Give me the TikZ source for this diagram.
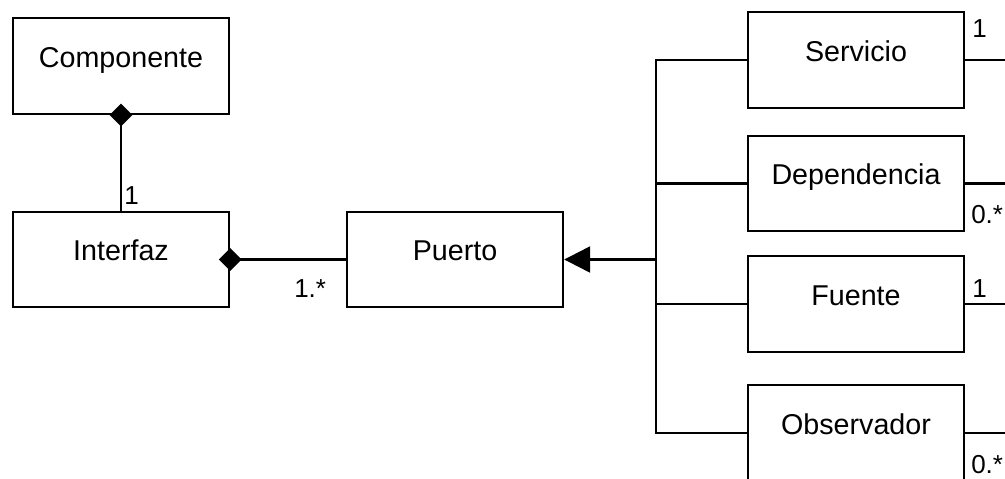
\documentclass[tikz,border=0pt]{standalone}
\usepackage{fontspec}
\setmainfont{Liberation Sans}
\usetikzlibrary{arrows.meta}

\begin{document}
\begin{tikzpicture}[x=0.75pt, y=-0.75pt,
    cls/.style={draw, line width=1.8pt, minimum width=162pt, minimum height=71.6pt,
      inner sep=0pt, font=\fontsize{21.5}{26}\selectfont,
      text height=0.55em, text depth=0.38em},
    mult/.style={inner sep=0pt, font=\fontsize{19.5}{23}\selectfont},
    assoc/.style={line width=1.8pt},
    compo/.style={assoc, -{Diamond[length=17pt, width=17pt]}, shorten >=-8.5pt},
    gener/.style={assoc, -{Triangle[length=19.5pt, width=19.5pt]}}]
  \useasboundingbox (0,0) rectangle (1005,478);

  % Left side: component, interface and port
  \node[cls] (comp) at (121,66) {Componente};
  \node[cls] (iface) at (121,259.5) {Interfaz};
  \node[cls] (port) at (455,259.5) {Puerto};

  % Right column: the kinds of port
  \node[cls] (serv) at (856,60) {Servicio};
  \node[cls] (dep) at (856,183.5) {Dependencia};
  \node[cls] (src) at (856,304) {Fuente};
  \node[cls] (obs) at (856,433) {Observador};

  % Compositions
  \draw[compo] (iface.north) -- (comp.south);
  \draw[compo] (port.west) -- (iface.east);
  \node[mult, anchor=base west] (m1) at (124,204) {1};
  \node[mult, anchor=base west] (m2) at (294,297) {1.*};

  % Generalisation bus
  \coordinate (bus) at (656,259.5);
  \draw[gener] (bus) -- (port.east);
  \foreach \k in {serv,dep,src,obs}
    \draw[assoc] (\k.west) -| (bus);

  % Outgoing ends on the right
  \coordinate (edge) at (1015,0);
  \foreach \k in {serv,dep,src,obs}
    \draw[assoc] (\k.east) -- (\k.east -| edge);
  \node[mult, anchor=base west] (m3) at (972,38) {1};
  \node[mult, anchor=base west] (m4) at (971,223) {0.*};
  \node[mult, anchor=base west] (m5) at (972,297) {1};
  \node[mult, anchor=base west] (m6) at (971,473) {0.*};
\end{tikzpicture}
\end{document}
